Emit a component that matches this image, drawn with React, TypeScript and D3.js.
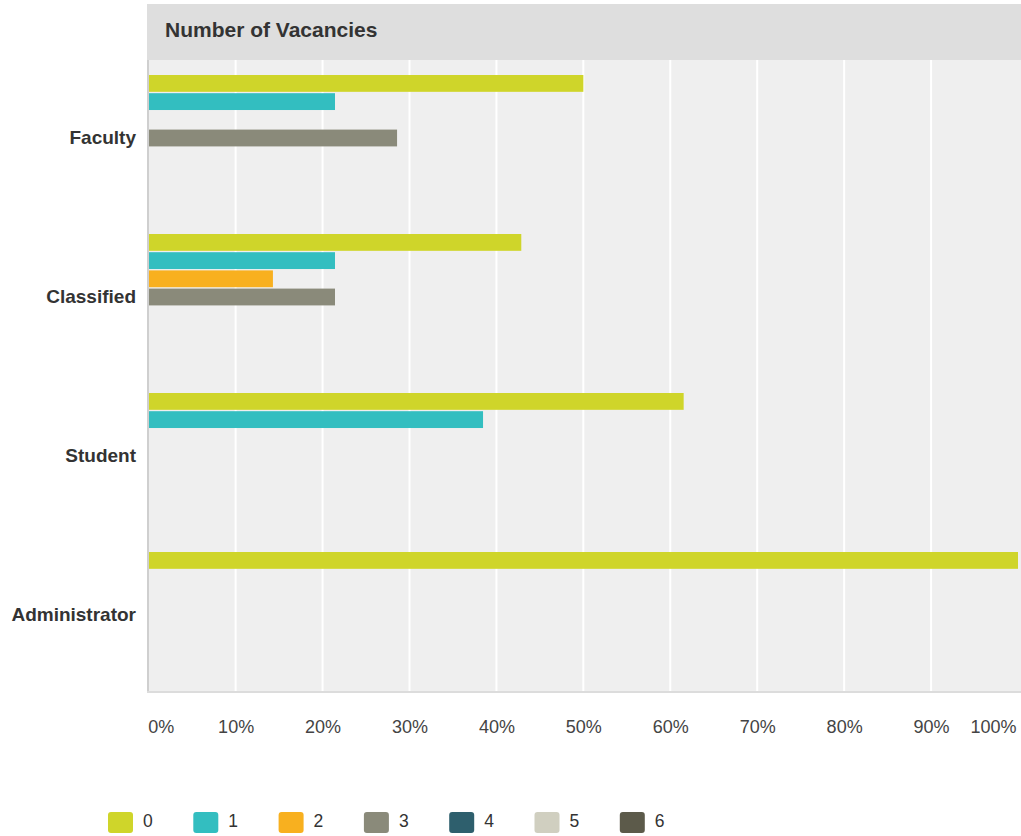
import React from 'react';
import { scaleBand, scaleLinear, select, axisBottom, format } from 'd3';

const categories = ['Faculty', 'Classified', 'Student', 'Administrator'];
const seriesKeys = ['0', '1', '2', '3', '4', '5', '6'];
const seriesColors = ['#cfd52a', '#33bec0', '#f8b01f', '#8a8a7a', '#2e5f6d', '#d0cfc0', '#5c5a4a'];
// share of answers (%) per category, one array per series
const s0 = [50, 42.86, 61.54, 100];
const s1 = [21.43, 21.43, 38.46, 0];
const s2 = [0, 14.29, 0, 0];
const s3 = [28.57, 21.43, 0, 0];
const s4 = [0, 0, 0, 0];
const s5 = [0, 0, 0, 0];
const s6 = [0, 0, 0, 0];
const seriesValues = [s0, s1, s2, s3, s4, s5, s6];
const tickValues = [0, 10, 20, 30, 40, 50, 60, 70, 80, 90, 100];

const W = 1021;
const H = 836;
const margin = { left: 148.7, right: 3, top: 60, bottom: 144 };
const FONT = '"Liberation Sans", Arial, Helvetica, sans-serif';

export default function App() {
  const axisRef = React.useRef<SVGGElement>(null);

  const plotBottom = H - margin.bottom;
  const x = scaleLinear().domain([0, 100]).range([margin.left, W - margin.right]);
  const y0 = scaleBand().domain(categories).range([margin.top, margin.top + 4 * 159]);
  const y1 = scaleBand().domain(seriesKeys).range([15, 141]).paddingInner(0.075).paddingOuter(0);

  React.useEffect(() => {
    const g = select(axisRef.current);
    const ax = axisBottom(x)
      .tickValues(tickValues)
      .tickSize(0)
      .tickPadding(28)
      .tickFormat((d: any) => format('d')(d) + '%');
    // @ts-ignore
    g.call(ax);
    g.select('.domain').remove();
    g.selectAll('text')
      .attr('font-family', FONT)
      .attr('font-size', 18)
      .attr('fill', '#444')
      .attr('text-anchor', (d: any) => (d === 0 ? 'start' : d === 100 ? 'end' : 'middle'))
      .attr('dx', (d: any) => (d === 0 ? -1 : d === 100 ? -2 : 0));
  }, []);

  return (
    <svg
      width={W}
      height={H}
      style={{ position: 'absolute', left: 0, top: 0, background: '#fff' }}
      fontFamily={FONT}
    >
      {/* title bar */}
      <rect x={147} y={4} width={W - 147} height={56} fill="#dedede" />
      <text x={165} y={37} fontSize={21} fontWeight="bold" fill="#333">
        Number of Vacancies
      </text>

      {/* plot background */}
      <rect x={margin.left} y={margin.top} width={W - margin.left} height={plotBottom - margin.top} fill="#efefef" />
      {tickValues.slice(1, -1).map((t) => (
        <line key={t} x1={x(t)} x2={x(t)} y1={margin.top} y2={plotBottom} stroke="#fff" strokeWidth={2} />
      ))}

      {/* bars */}
      {categories.map((c, ci) => (
        <g key={c} transform={`translate(0,${y0(c)})`}>
          {seriesKeys.map((k, si) => {
            const v = seriesValues[si][ci];
            if (!v) return null;
            return (
              <rect
                key={k}
                x={x(0)}
                y={y1(k)}
                width={x(v) - x(0)}
                height={y1.bandwidth()}
                fill={seriesColors[si]}
              />
            );
          })}
          <text
            x={136}
            y={y0.bandwidth() / 2 + 4.5}
            textAnchor="end"
            fontSize={19}
            fontWeight="bold"
            fill="#333"
          >
            {c}
          </text>
        </g>
      ))}

      {/* axis lines */}
      <line x1={148} x2={148} y1={margin.top} y2={plotBottom + 1} stroke="#cfcfcf" strokeWidth={2} />
      <line x1={147} x2={W} y1={plotBottom} y2={plotBottom} stroke="#dcdcdc" strokeWidth={2} />

      <g ref={axisRef} transform={`translate(0,${plotBottom})`} />

      {/* legend */}
      {seriesKeys.map((k, i) => {
        const lx = 108 + i * 85.3;
        return (
          <g key={k} transform={`translate(${lx},812)`}>
            <rect width={25} height={21} rx={3} fill={seriesColors[i]} />
            <text x={35} y={15} fontSize={17.5} fill="#333">
              {k}
            </text>
          </g>
        );
      })}
    </svg>
  );
}
